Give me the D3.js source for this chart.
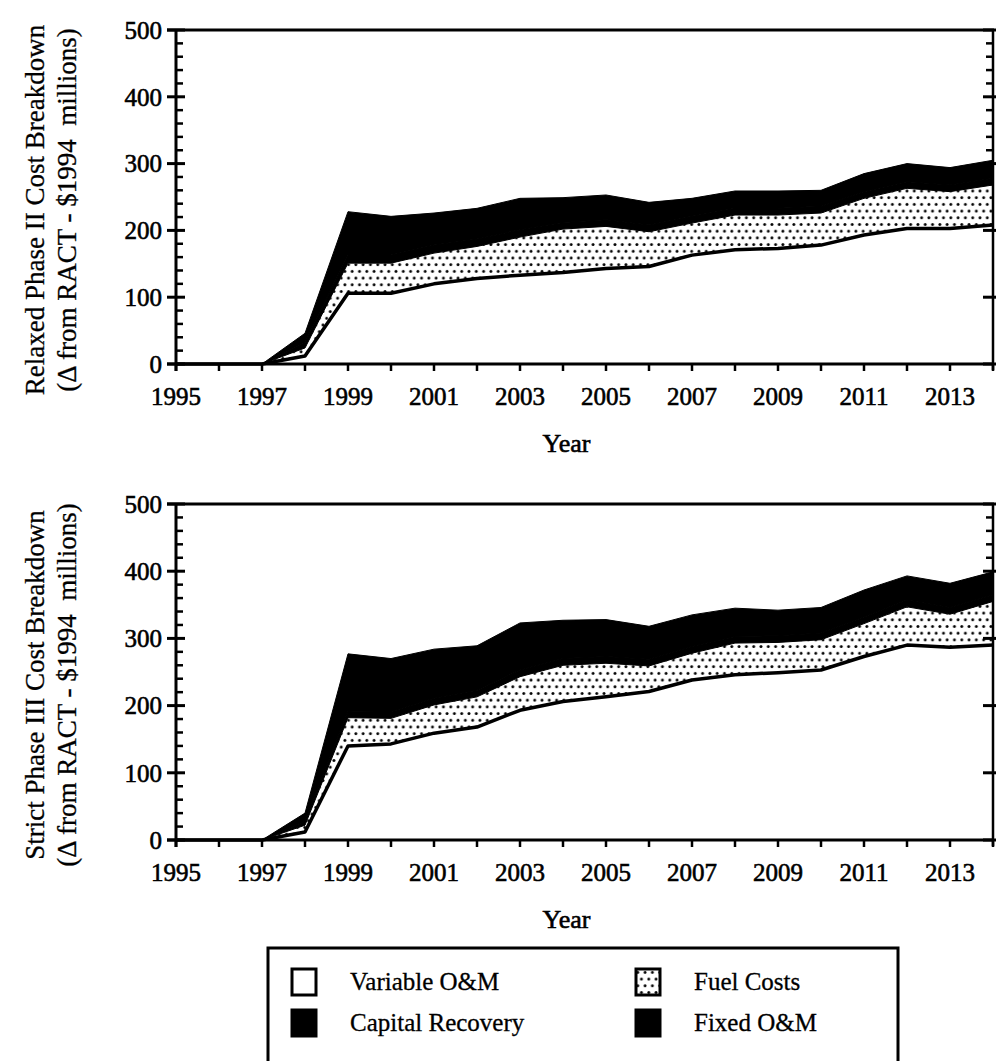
<!DOCTYPE html>
<html>
<head>
<meta charset="utf-8">
<script src="https://cdn.jsdelivr.net/npm/d3@7"></script>
<style>
  body { margin: 0; background: #fff; }
  svg { display: block; font-family: "Liberation Serif", "Times New Roman", serif; }
  .heavy { stroke: #000; stroke-width: 0.6px; }
  .medium { stroke: #000; stroke-width: 0.3px; }
</style>
</head>
<body>
<svg id="chart" width="1000" height="1061"></svg>
<script>
// years on the x axis
const years = [1995, 1996, 1997, 1998, 1999, 2000, 2001, 2002, 2003, 2004,
               2005, 2006, 2007, 2008, 2009, 2010, 2011, 2012, 2013, 2014];
const xTickLabels = [1995, 1997, 1999, 2001, 2003, 2005, 2007, 2009, 2011, 2013];
const yTicks = [0, 100, 200, 300, 400, 500];
const seriesNames = ['Variable O&M', 'Fuel Costs', 'Capital Recovery', 'Fixed O&M'];

// Relaxed Phase II ($1994 millions, delta from RACT)
const relaxedVariable = [0, 0, 0, 12, 106, 106, 120, 128, 133, 137, 143, 146, 163, 171, 173, 178, 193, 203, 203, 208];
const relaxedFuel     = [0, 0, 0, 12, 45, 45, 46, 48, 57, 65, 63, 52, 48, 52, 50, 48, 55, 60, 55, 60];
const relaxedCapital  = [0, 0, 0, 8, 12, 12, 12, 11, 11, 10, 10, 10, 10, 10, 10, 10, 10, 10, 10, 10];
const relaxedFixed    = [0, 0, 0, 14, 65, 58, 48, 46, 47, 37, 37, 34, 27, 26, 26, 24, 27, 27, 26, 27];

// Strict Phase III
const strictVariable = [0, 0, 0, 12, 140, 143, 159, 168, 193, 206, 213, 221, 238, 246, 249, 253, 273, 290, 287, 290];
const strictFuel     = [0, 0, 0, 10, 42, 38, 42, 45, 50, 54, 50, 38, 40, 47, 45, 45, 49, 57, 49, 65];
const strictCapital  = [0, 0, 0, 6, 10, 10, 10, 10, 10, 10, 10, 10, 10, 10, 10, 10, 10, 10, 10, 10];
const strictFixed    = [0, 0, 0, 12, 85, 79, 73, 66, 70, 57, 55, 49, 47, 42, 38, 38, 40, 36, 36, 34];

const panels = [
  { top: 30, bottom: 364, title: ['Relaxed Phase II Cost Breakdown', '(\u0394 from RACT - $1994  millions)'],
    series: [relaxedVariable, relaxedFuel, relaxedCapital, relaxedFixed] },
  { top: 504, bottom: 840, title: ['Strict Phase III Cost Breakdown', '(\u0394 from RACT - $1994  millions)'],
    series: [strictVariable, strictFuel, strictCapital, strictFixed] }
];

const left = 176, right = 993;
const svg = d3.select('#chart');

// dotted fill for fuel costs
const defs = svg.append('defs');
const pat = defs.append('pattern')
  .attr('id', 'dots')
  .attr('patternUnits', 'userSpaceOnUse')
  .attr('width', 7.3)
  .attr('height', 13.4);
pat.append('rect').attr('width', 7.3).attr('height', 13.4).attr('fill', '#fff');
pat.append('circle').attr('cx', 1.8).attr('cy', 3.3).attr('r', 1.45).attr('fill', '#000');
pat.append('circle').attr('cx', 5.45).attr('cy', 10).attr('r', 1.45).attr('fill', '#000');

const x = d3.scaleLinear().domain([1995, 2014]).range([left, right]);
const fills = ['#fff', 'url(#dots)', '#000', '#000'];

panels.forEach(p => {
  const y = d3.scaleLinear().domain([0, 500]).range([p.bottom, p.top]);
  const g = svg.append('g');

  const rows = years.map((yr, i) => {
    const r = { year: yr };
    seriesNames.forEach((s, k) => { r[s] = p.series[k][i]; });
    return r;
  });
  const stacked = d3.stack().keys(seriesNames)(rows);

  // minor ticks on the right axis sit under the areas
  const minor = d3.range(0, 501, 20).filter(v => v % 100 !== 0);
  g.append('g').selectAll('line').data(minor).join('line')
    .attr('x1', right - 7).attr('x2', right)
    .attr('y1', d => y(d)).attr('y2', d => y(d))
    .attr('stroke', '#000').attr('stroke-width', 2.5);

  const area = d3.area()
    .x(d => x(d.data.year))
    .y0(d => y(d[0]))
    .y1(d => y(d[1]));

  g.append('g').selectAll('path').data(stacked).join('path')
    .attr('d', area)
    .attr('fill', (d, i) => fills[i])
    .attr('stroke', (d, i) => i >= 2 ? '#000' : 'none')
    .attr('stroke-width', 1);

  // outline on top of variable O&M
  g.append('path')
    .datum(stacked[0])
    .attr('d', d3.line().x(d => x(d.data.year)).y(d => y(d[1])))
    .attr('fill', 'none')
    .attr('stroke', '#000')
    .attr('stroke-width', 3.5)
    .attr('stroke-linejoin', 'round');

  // frame
  g.append('line').attr('x1', left - 9).attr('x2', right + 1).attr('y1', p.top).attr('y2', p.top)
    .attr('stroke', '#000').attr('stroke-width', 3);
  g.append('line').attr('x1', left).attr('x2', left).attr('y1', p.top).attr('y2', p.bottom + 7)
    .attr('stroke', '#000').attr('stroke-width', 3);
  g.append('line').attr('x1', right).attr('x2', right).attr('y1', p.top).attr('y2', p.bottom + 6)
    .attr('stroke', '#000').attr('stroke-width', 2.5);
  g.append('line').attr('x1', left - 9).attr('x2', right + 1).attr('y1', p.bottom).attr('y2', p.bottom)
    .attr('stroke', '#000').attr('stroke-width', 3);

  // left axis ticks
  g.append('g').selectAll('line').data(minor).join('line')
    .attr('x1', left).attr('x2', left + 7)
    .attr('y1', d => y(d)).attr('y2', d => y(d))
    .attr('stroke', '#000').attr('stroke-width', 2.5);
  g.append('g').selectAll('line').data(yTicks).join('line')
    .attr('x1', left - 9).attr('x2', left + 9)
    .attr('y1', d => y(d)).attr('y2', d => y(d))
    .attr('stroke', '#000').attr('stroke-width', 3);
  g.append('g').selectAll('line').data(yTicks).join('line')
    .attr('x1', right - 10).attr('x2', right + 3)
    .attr('y1', d => y(d)).attr('y2', d => y(d))
    .attr('stroke', '#000').attr('stroke-width', 3);

  // x ticks
  g.append('g').selectAll('line').data(years).join('line')
    .attr('x1', d => x(d)).attr('x2', d => x(d))
    .attr('y1', p.bottom).attr('y2', p.bottom + 7)
    .attr('stroke', '#000').attr('stroke-width', 2.5);

  // tick labels
  g.append('g').selectAll('text').data(yTicks).join('text')
    .attr('class', 'heavy')
    .attr('x', left - 14).attr('y', d => y(d))
    .attr('dy', '0.35em')
    .attr('text-anchor', 'end')
    .style('font-size', '25px')
    .text(d => d);
  g.append('g').selectAll('text').data(xTickLabels).join('text')
    .attr('class', 'heavy')
    .attr('x', d => x(d)).attr('y', p.bottom + 41)
    .attr('text-anchor', 'middle')
    .style('font-size', '25px')
    .text(d => d);

  g.append('text')
    .attr('class', 'heavy')
    .attr('x', (left + right) / 2 - 18).attr('y', p.bottom + 88)
    .attr('text-anchor', 'middle')
    .style('font-size', '26px')
    .text('Year');

  // y title, two lines
  const cy = (p.top + p.bottom) / 2 + 13;
  p.title.forEach((t, i) => {
    g.append('text')
      .attr('class', 'medium')
      .attr('transform', `translate(${44 + i * 32},${cy}) rotate(-90)`)
      .attr('text-anchor', 'middle')
      .style('font-size', '27px')
      .style('white-space', 'pre')
      .text(t);
  });
});

// legend (bottom edge runs off the page like the scan)
const legend = svg.append('g');
legend.append('rect')
  .attr('x', 268).attr('y', 948).attr('width', 630).attr('height', 115)
  .attr('fill', 'none').attr('stroke', '#000').attr('stroke-width', 3);

const legendItems = [
  { name: seriesNames[0], fill: '#fff', col: 0, row: 0 },
  { name: seriesNames[1], fill: 'url(#dots)', col: 1, row: 0 },
  { name: seriesNames[2], fill: '#000', col: 0, row: 1 },
  { name: seriesNames[3], fill: '#000', col: 1, row: 1 }
];
const item = legend.selectAll('g.item').data(legendItems).join('g')
  .attr('class', 'item')
  .attr('transform', d => `translate(${d.col ? 636 : 292},${d.row ? 1010 : 969})`);
item.append('rect')
  .attr('width', 24).attr('height', 26)
  .attr('fill', d => d.fill)
  .attr('stroke', '#000').attr('stroke-width', 3);
item.append('text')
  .attr('class', 'medium')
  .attr('x', 58).attr('y', 21)
  .style('font-size', '25px')
  .text(d => d.name);
</script>
</body>
</html>
